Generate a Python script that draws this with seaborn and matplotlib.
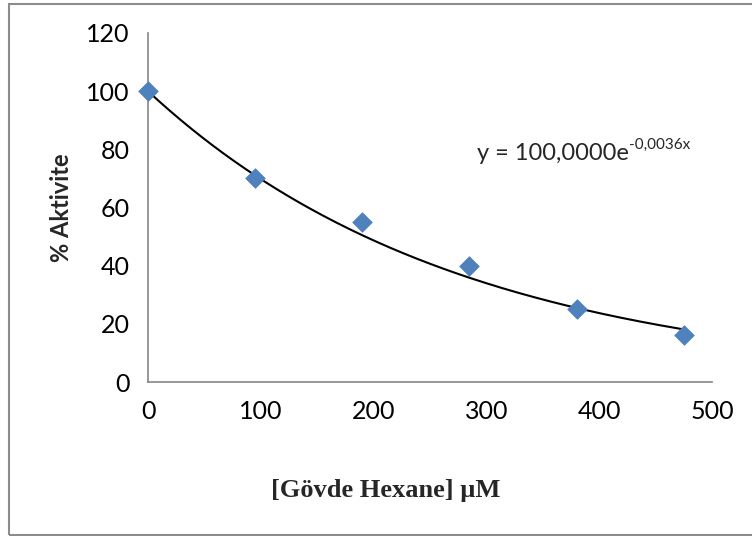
import numpy as np
import pandas as pd
import matplotlib
matplotlib.use("Agg")
import matplotlib.pyplot as plt
from matplotlib.patches import Rectangle
import seaborn as sns

# Measured activity vs. concentration
concentration = [0, 95, 190, 285, 380, 475]
activity = [100, 70, 55, 40, 25, 16]

# Exponential trendline y = a * exp(b * x)
fit_a = 100.0
fit_b = -0.0036
equation_main = "y = 100,0000e"
equation_exp = "-0,0036x"

x_ticks = [0, 100, 200, 300, 400, 500]
y_ticks = [0, 20, 40, 60, 80, 100, 120]

sns.set_theme(style="white")
plt.rcParams["font.family"] = ["Lato", "DejaVu Sans"]

fig = plt.figure(figsize=(7.52, 5.36), dpi=100)
fig.patch.set_facecolor("white")
ax = fig.add_axes([148 / 752, 1 - 382 / 536, (712 - 148) / 752, (382 - 33) / 536])

# Outer chart frame
fig.add_artist(Rectangle((9 / 752, 1 - 535 / 536), 1.2, (535 - 4) / 536,
                         transform=fig.transFigure, fill=False,
                         edgecolor="#8c8c8c", linewidth=1.5, clip_on=False))

df = pd.DataFrame({"conc": concentration, "act": activity})
xs = np.linspace(concentration[0], concentration[-1], 200)
ax.plot(xs, fit_a * np.exp(fit_b * xs), color="black", linewidth=1.5, zorder=2)
sns.scatterplot(data=df, x="conc", y="act", marker="D", s=100,
                color="#4F81BD", edgecolor="#4F81BD", linewidth=0.5,
                ax=ax, zorder=3, clip_on=False)

ax.set_xlim(0, 500)
ax.set_ylim(0, 120)
ax.set_xticks(x_ticks)
ax.set_yticks(y_ticks)
ax.set_xticklabels([str(v) for v in x_ticks])
ax.set_yticklabels([str(v) for v in y_ticks])

for side in ["top", "right"]:
    ax.spines[side].set_visible(False)
for side in ["left", "bottom"]:
    ax.spines[side].set_color("#868686")
    ax.spines[side].set_linewidth(1.2)

ax.tick_params(axis="both", which="major", direction="out", length=6,
               width=1.2, color="#868686", labelsize=18, labelcolor="black")
ax.tick_params(axis="x", pad=7)
ax.tick_params(axis="y", pad=7)

ax.set_xlabel("")
ax.set_ylabel("")
fig.text(62 / 752, 1 - 208 / 536, "% Aktivite", rotation=90, ha="center",
         va="center", fontsize=17, fontweight="bold", family=["Lato", "DejaVu Sans"])
fig.text(386 / 752, 1 - 490 / 536, "[Gövde Hexane] µM", ha="center", va="center",
         fontsize=19, fontweight="bold", family=["Liberation Serif", "DejaVu Serif"])

# Trendline equation with superscript exponent
t = ax.text(292, 76.5, equation_main, fontsize=17, ha="left", va="baseline")
ax.annotate(equation_exp, xy=(1, 0.55), xycoords=t, ha="left", va="bottom",
            fontsize=11)

ax.set_facecolor("white")
fig.savefig("out.png", dpi=100, facecolor="white")
